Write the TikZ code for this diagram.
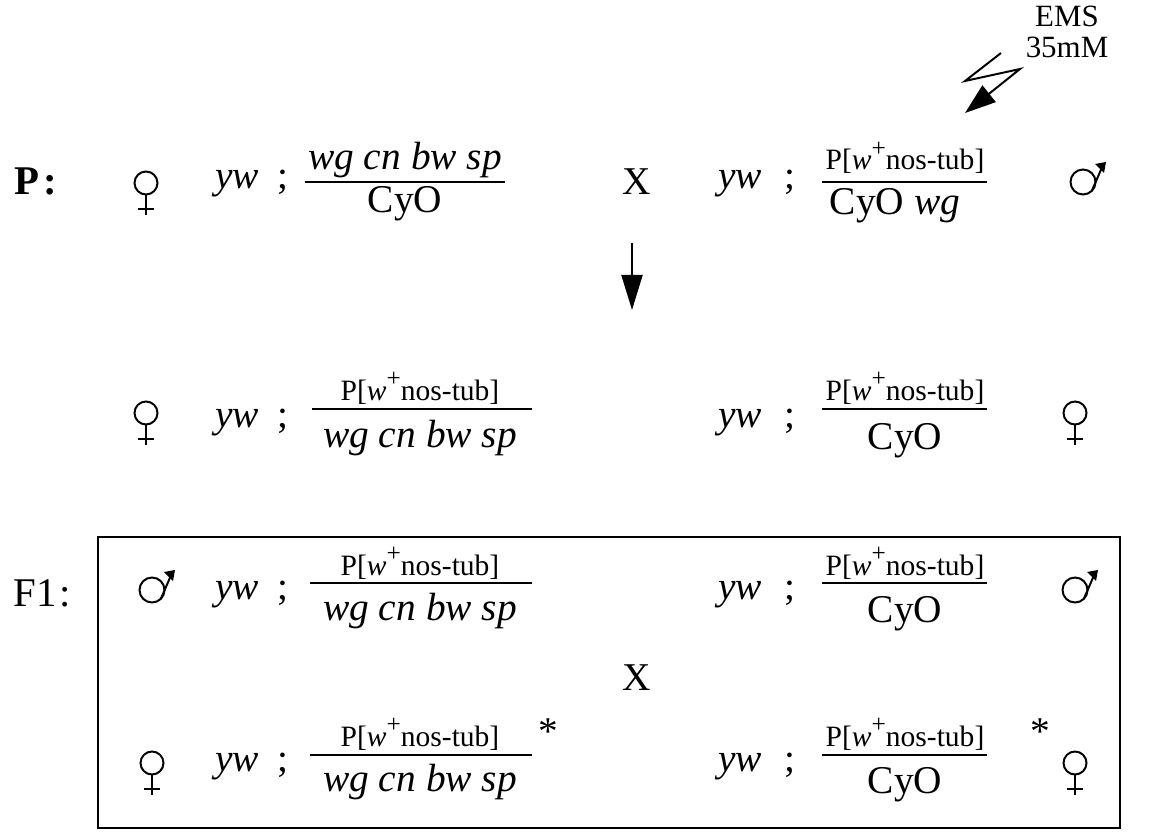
\documentclass[tikz,border=0pt]{standalone}
\usepackage{fontspec}
\setmainfont{Liberation Serif}
\usetikzlibrary{arrows.meta}

\newcommand{\ptub}{P[\textit{w}\raisebox{.45em}{\fontsize{18}{18}\selectfont +}nos-tub]}
\newcommand{\wgcn}{\textit{wg cn bw sp}}

\tikzset{
  gene/.style={font=\fontsize{28}{30}\selectfont, inner sep=0pt, anchor=base},
  insert/.style={font=\fontsize{21}{23}\selectfont, inner sep=0pt, anchor=base},
  gen/.style={font=\fontsize{29}{31}\selectfont, inner sep=0pt, anchor=base},
  bar/.style={line width=2pt},
  female/.pic={
    \draw[line width=1.4pt] (0,0) circle (11.5);
    \draw[line width=1.4pt] (0,11.5) -- (0,32) (-8,26) -- (8,26);
  },
  male/.pic={
    \draw[line width=1.4pt] (0,0) circle (12.5);
    \draw[line width=1.4pt] (45:12.5) -- (20,-17);
    \fill (23,-20) -- (12,-18) -- (21,-9) -- cycle;
  },
}

\begin{document}
\begin{tikzpicture}[x=0.025cm, y=-0.025cm]
\useasboundingbox (0,0) rectangle (1165,840);

% mutagen
\node[insert, font=\fontsize{22}{24}\selectfont] (ems) at (1067,27) {EMS};
\node[insert, font=\fontsize{22}{24}\selectfont] (mm) at (1067,58) {35mM};
\coordinate (z1) at (1001,53);
\coordinate (z2) at (965,81);
\coordinate (z3) at (1020,69);
\coordinate (z4) at (965,113);
\draw[line width=1.4pt, -{Triangle[length=22, width=15]}] (z1) -- (z2) -- (z3) -- (z4);

% P generation
\node[gen, font=\bfseries\fontsize{29}{31}\selectfont] (p) at (36,195) {P\kern3pt:};
\pic at (146,183) {female};
\node[gene] (pyw1) at (237,189) {\textit{yw}};
\node[gene] (psc1) at (283,189) {;};
\node[gene] (pn1) at (405,170) {\wgcn};
\node[gene] (pd1) at (405,213) {CyO};
\draw[bar] (305,182) -- (505,182);
\node[gene] (px) at (637,195) {X};
\node[gene] (pyw2) at (740,189) {\textit{yw}};
\node[gene] (psc2) at (790,189) {;};
\node[insert] (pn2) at (905,170) {\ptub};
\node[gene] (pd2) at (895,215) {CyO \textit{wg}};
\draw[bar] (822,182) -- (987,182);
\pic at (1083,182) {male};

% cross
\coordinate (down1) at (632,243);
\coordinate (down2) at (632,310);
\draw[line width=1.4pt, -{Triangle[length=25, width=15]}] (down1) -- (down2);

% progeny of the cross
\pic at (146,413) {female};
\node[gene] (oyw1) at (237,427) {\textit{yw}};
\node[gene] (osc1) at (283,427) {;};
\node[insert] (on1) at (420,400) {\ptub};
\node[gene] (od1) at (420,447) {\wgcn};
\draw[bar] (312,409) -- (532,409);
\node[gene] (oyw2) at (740,427) {\textit{yw}};
\node[gene] (osc2) at (790,427) {;};
\node[insert] (on2) at (905,400) {\ptub};
\node[gene] (od2) at (905,449) {CyO};
\draw[bar] (822,409) -- (987,409);
\pic at (1075,413) {female};

% F1 box
\node[gen] (f) at (42,606) {F1\kern2pt:};
\draw[line width=1.4pt] (98,537) rectangle (1120,828);

\pic at (152,590) {male};
\node[gene] (myw1) at (237,599) {\textit{yw}};
\node[gene] (msc1) at (283,599) {;};
\node[insert] (mn1) at (420,575) {\ptub};
\node[gene] (md1) at (420,620) {\wgcn};
\draw[bar] (310,583) -- (532,583);
\node[gene] (myw2) at (740,599) {\textit{yw}};
\node[gene] (msc2) at (790,599) {;};
\node[insert] (mn2) at (905,575) {\ptub};
\node[gene] (md2) at (905,622) {CyO};
\draw[bar] (822,583) -- (987,583);
\pic at (1075,590) {male};

\node[gene] (fx) at (637,690) {X};

\pic at (152,763) {female};
\node[gene] (fyw1) at (237,771) {\textit{yw}};
\node[gene] (fsc1) at (283,771) {;};
\node[insert] (fn1) at (420,746) {\ptub};
\node[gene] (fs1) at (548,744) {*};
\node[gene] (fd1) at (420,791) {\wgcn};
\draw[bar] (310,755) -- (532,755);
\node[gene] (fyw2) at (740,771) {\textit{yw}};
\node[gene] (fsc2) at (790,771) {;};
\node[insert] (fn2) at (905,746) {\ptub};
\node[gene] (fs2) at (1040,744) {*};
\node[gene] (fd2) at (905,793) {CyO};
\draw[bar] (822,755) -- (987,755);
\pic at (1075,763) {female};
\end{tikzpicture}
\end{document}
